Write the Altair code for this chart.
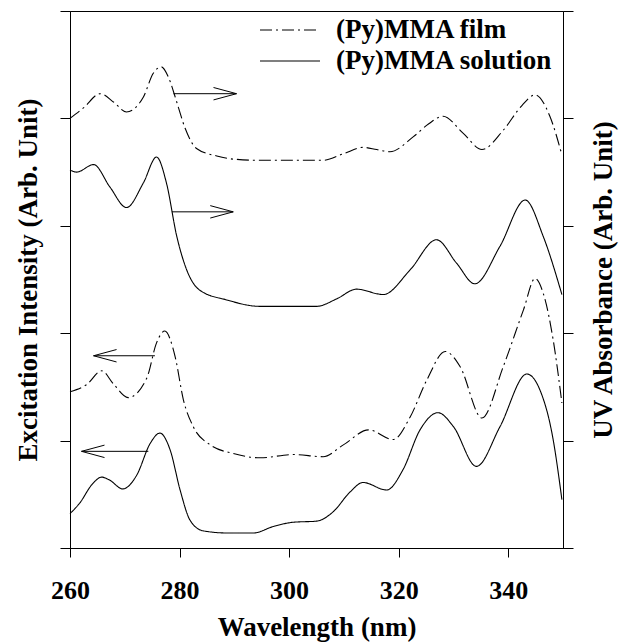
import altair as alt
import pandas as pd

FONT = "Liberation Serif"
FILM = "(Py)MMA film"
SOL = "(Py)MMA solution"

# ---- curve data (wavelength nm, arbitrary units on a 0-5 scale) ----
film_uv_x = [260, 262.5, 265.5, 268, 270.3, 273.4, 275.2, 276.7, 278, 279.5, 281, 283.1, 286.8, 290,
             294.7, 300.8, 306.2, 309.9, 313.5, 316, 318.4, 322.7, 325.5, 328.1, 331.8, 335.2, 339.1,
             342.5, 344.9, 347.6, 349.8]
film_uv_y = [4.0, 4.1, 4.23, 4.15, 4.06, 4.2, 4.42, 4.48, 4.38, 4.15, 3.91, 3.72, 3.65, 3.62,
             3.61, 3.61, 3.61, 3.67, 3.73, 3.71, 3.69, 3.83, 3.95, 4.02, 3.86, 3.71, 3.89,
             4.12, 4.22, 4.02, 3.66]

sol_uv_x = [260, 261.2, 264.3, 267.3, 270.3, 273.4, 275.8, 277.6, 279.5, 281.3, 283.7, 288.6, 294.7,
            300.8, 305, 308.7, 312.3, 317.2, 322.1, 326.9, 330.6, 333.9, 338.5, 343.1, 346.4, 349.8]
sol_uv_y = [3.52, 3.50, 3.57, 3.36, 3.17, 3.40, 3.64, 3.40, 2.90, 2.59, 2.40, 2.31, 2.25,
            2.25, 2.25, 2.32, 2.41, 2.36, 2.59, 2.87, 2.65, 2.46, 2.81, 3.24, 2.90, 2.36]

film_ex_x = [260, 263, 265.8, 267.9, 270.6, 274, 275.8, 277.3, 279.2, 280.7, 282.5, 285.6, 289.8,
             294.7, 300.8, 306.2, 309.9, 314.5, 319, 322.1, 325.1, 328.5, 331.2, 335.2, 339.1,
             342.8, 344.9, 346.4, 348.2, 349.8]
film_ex_y = [1.455, 1.52, 1.65, 1.53, 1.40, 1.58, 1.91, 2.02, 1.78, 1.38, 1.13, 0.96, 0.88,
             0.84, 0.87, 0.85, 0.96, 1.10, 1.01, 1.22, 1.56, 1.83, 1.69, 1.21, 1.69,
             2.22, 2.51, 2.37, 1.94, 1.35]

sol_ex_x = [260, 261.8, 264, 265.8, 267.3, 269.6, 272.2, 274.6, 276.4, 278.3, 280.1, 281.9, 284.3,
            288.6, 293.5, 297.1, 300.8, 305, 308.1, 311.1, 313.5, 317.8, 320.8, 323.9, 327.2,
            330, 334.2, 338.5, 343.4, 345.8, 348.2, 349.8]
sol_ex_y = [0.32, 0.42, 0.59, 0.66, 0.63, 0.55, 0.68, 0.97, 1.07, 0.91, 0.54, 0.26, 0.16,
            0.14, 0.14, 0.20, 0.24, 0.25, 0.34, 0.52, 0.61, 0.54, 0.73, 1.10, 1.26,
            1.13, 0.76, 1.13, 1.62, 1.47, 1.01, 0.45]

# ---- arrows (tail wavelength, tip wavelength, level) ----
uv_arrow_tail = [278.9, 278.6]
uv_arrow_tip = [290.4, 289.8]
uv_arrow_y = [4.23, 3.13]
ex_arrow_tail = [275.5, 274.3]
ex_arrow_tip = [264.3, 262.1]
ex_arrow_y = [1.79, 0.90]

x_ticks = [260, 280, 300, 320, 340]
y_ticks = [0, 1, 2, 3, 4, 5]


def frame(xs, ys, name, kind):
    return pd.DataFrame({"wl": xs, "v": ys, "curve": name, "sample": kind})


upper = pd.concat([frame(film_uv_x, film_uv_y, "film_uv", FILM),
                   frame(sol_uv_x, sol_uv_y, "sol_uv", SOL)])
lower = pd.concat([frame(film_ex_x, film_ex_y, "film_ex", FILM),
                   frame(sol_ex_x, sol_ex_y, "sol_ex", SOL)])

uv_shafts = pd.DataFrame({"wl": uv_arrow_tail, "wl2": uv_arrow_tip, "v": uv_arrow_y})
ex_shafts = pd.DataFrame({"wl": ex_arrow_tail, "wl2": ex_arrow_tip, "v": ex_arrow_y})
uv_heads = pd.DataFrame({"wl": uv_arrow_tip, "v": uv_arrow_y})
ex_heads = pd.DataFrame({"wl": ex_arrow_tip, "v": ex_arrow_y})

X = alt.X("wl:Q",
          scale=alt.Scale(domain=[260, 350], nice=False, zero=False),
          axis=alt.Axis(values=x_ticks, title="Wavelength (nm)", format="d",
                        labelFont=FONT, labelFontSize=26, labelFontWeight="bold",
                        labelColor="black", labelPadding=20, labelFlush=False,
                        titleFont=FONT, titleFontSize=27, titleFontWeight="bold",
                        titleColor="black", titleY=79, titleBaseline="middle",
                        tickSize=9, tickColor="black", domainColor="black",
                        grid=False))


def Y(orient, title, tx):
    return alt.Y("v:Q",
                 scale=alt.Scale(domain=[0, 5], nice=False, zero=False),
                 axis=alt.Axis(orient=orient, values=y_ticks, labels=False, title=title,
                               titleFont=FONT, titleFontSize=27, titleFontWeight="bold",
                               titleColor="black", titleAngle=270, titleX=tx, titleY=268.5,
                               titleAlign="center", titleBaseline="middle",
                               tickSize=10, tickColor="black", domainColor="black",
                               grid=False))


dash = alt.StrokeDash("sample:N",
                      scale=alt.Scale(domain=[FILM, SOL], range=[[12, 4, 2, 4], [1, 0]]),
                      legend=alt.Legend(title=None, orient="none", legendX=189, legendY=3.5,
                                        symbolType="stroke", symbolSize=3600,
                                        symbolStrokeWidth=1.2, symbolStrokeColor="black",
                                        labelFont=FONT, labelFontSize=27,
                                        labelFontWeight="bold", labelColor="black",
                                        labelOffset=15, clipHeight=31, rowPadding=0,
                                        padding=0, labelLimit=400))

RIGHT_HEAD = "M -1 -0.27 L 0 0 L -1 0.27"
LEFT_HEAD = "M 1 -0.27 L 0 0 L 1 0.27"


def group(df, shafts_df, heads_df, orient, title, tx, head):
    y = Y(orient, title, tx)
    lines = alt.Chart(df).mark_line(color="black", strokeWidth=1.1, interpolate="monotone").encode(
        x=X, y=y, strokeDash=dash, detail="curve:N")
    shafts = alt.Chart(shafts_df).mark_rule(color="black", strokeWidth=1).encode(
        x=X, x2="wl2:Q", y=y)
    heads = alt.Chart(heads_df).mark_point(shape=head, filled=False, color="black",
                                           strokeWidth=1, size=2116, opacity=1).encode(
        x=X, y=y)
    return alt.layer(lines, shafts, heads)


left = group(lower, ex_shafts, ex_heads, "left", "Excitation Intensity (Arb. Unit)", -41.5, LEFT_HEAD)
right = group(upper, uv_shafts, uv_heads, "right", "UV Absorbance (Arb. Unit)", 40, RIGHT_HEAD)

chart = alt.layer(left, right).resolve_scale(y="independent").properties(
    width=493, height=537, autosize=alt.AutoSizeParams(type="none"),
    padding={"left": 70, "top": 11, "right": 57, "bottom": 95},
    background="white",
).configure_view(stroke="black", strokeWidth=1)

chart.save("out.html", embed_options={"renderer": "svg", "actions": False})
